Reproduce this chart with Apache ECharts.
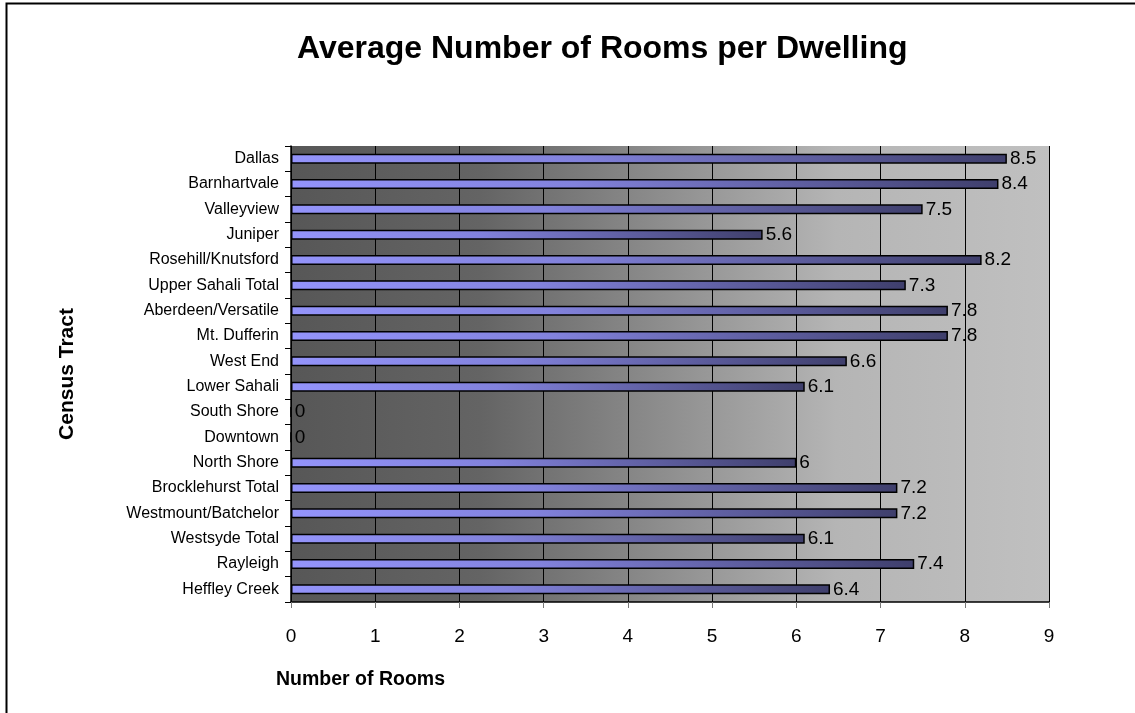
<!DOCTYPE html>
<html>
<head>
<meta charset="utf-8">
<script src="https://cdn.jsdelivr.net/npm/echarts@6/dist/echarts.min.js"></script>
<style>
  html, body { margin: 0; padding: 0; background: #fff; }
  #chart { width: 1135px; height: 713px; }
</style>
</head>
<body>
<div id="chart"></div>
<script>
// census tracts, top to bottom
const tracts = ['Dallas', 'Barnhartvale', 'Valleyview', 'Juniper', 'Rosehill/Knutsford',
	'Upper Sahali Total', 'Aberdeen/Versatile', 'Mt. Dufferin', 'West End', 'Lower Sahali',
	'South Shore', 'Downtown', 'North Shore', 'Brocklehurst Total', 'Westmount/Batchelor',
	'Westsyde Total', 'Rayleigh', 'Heffley Creek'];
const rooms = [8.5, 8.4, 7.5, 5.6, 8.2, 7.3, 7.8, 7.8, 6.6, 6.1, 0, 0, 6, 7.2, 7.2, 6.1, 7.4, 6.4];
const xTicks = [0, 1, 2, 3, 4, 5, 6, 7, 8, 9];

const chart = echarts.init(document.getElementById('chart'));
const font = 'Liberation Sans, Arial, sans-serif';

chart.setOption({
	animation: false,
	textStyle: {fontFamily: font},
	title: {
		text: 'Average Number of Rooms per Dwelling',
		left: 292,
		top: 28,
		textStyle: {fontSize: 32, fontWeight: 'bold', color: '#000', fontFamily: font}
	},
	graphic: [
		{	// outer frame, right/bottom edges fall off the picture
			type: 'rect',
			shape: {x: 6.5, y: 3.5, width: 1200, height: 800},
			style: {fill: 'none', stroke: '#000', lineWidth: 2},
			silent: true
		},
		{
			type: 'text',
			left: 276,
			top: 670,
			style: {text: 'Number of Rooms', font: 'bold 19.5px ' + font, fill: '#000'}
		}
	],
	grid: {
		left: 291,
		right: 86,
		top: 146,
		bottom: 111,
		show: true,
		borderWidth: 0,
		backgroundColor: new echarts.graphic.LinearGradient(0, 0, 1, 0, [
			{offset: 0, color: '#575757'},
			{offset: 0.25, color: '#646464'},
			{offset: 0.72, color: '#b5b5b5'},
			{offset: 1, color: '#c0c0c0'}
		])
	},
	xAxis: {
		type: 'value',
		min: 0,
		max: 9,
		interval: 1,
		axisLine: {show: true, lineStyle: {color: '#000', width: 1.5}},
		axisTick: {show: true, length: 6, lineStyle: {color: '#777'}},
		axisLabel: {
			fontSize: 19, color: '#000', margin: 25,
			formatter: v => xTicks.includes(v) ? String(v) : ''
		},
		splitLine: {show: true, lineStyle: {color: '#000', width: 1}}
	},
	yAxis: {
		type: 'category',
		data: tracts,
		inverse: true,
		name: 'Census Tract',
		nameLocation: 'middle',
		nameGap: 213,
		nameTextStyle: {fontSize: 21, fontWeight: 'bold', color: '#000'},
		axisLine: {show: true, lineStyle: {color: '#000', width: 1.5}},
		axisTick: {show: true, length: 6, lineStyle: {color: '#000'}},
		axisLabel: {fontSize: 16, color: '#000', margin: 12}
	},
	series: [{
		type: 'bar',
		data: rooms,
		barWidth: 10,
		itemStyle: {
			color: new echarts.graphic.LinearGradient(0, 0, 1, 0, [
				{offset: 0, color: '#9494fb'},
				{offset: 0.4, color: '#8282dc'},
				{offset: 1, color: '#3f3f6c'}
			]),
			borderColor: '#000',
			borderWidth: 1.5
		},
		label: {
			show: true,
			position: 'right',
			distance: 3,
			fontSize: 19,
			color: '#000'
		}
	}]
});
</script>
</body>
</html>
